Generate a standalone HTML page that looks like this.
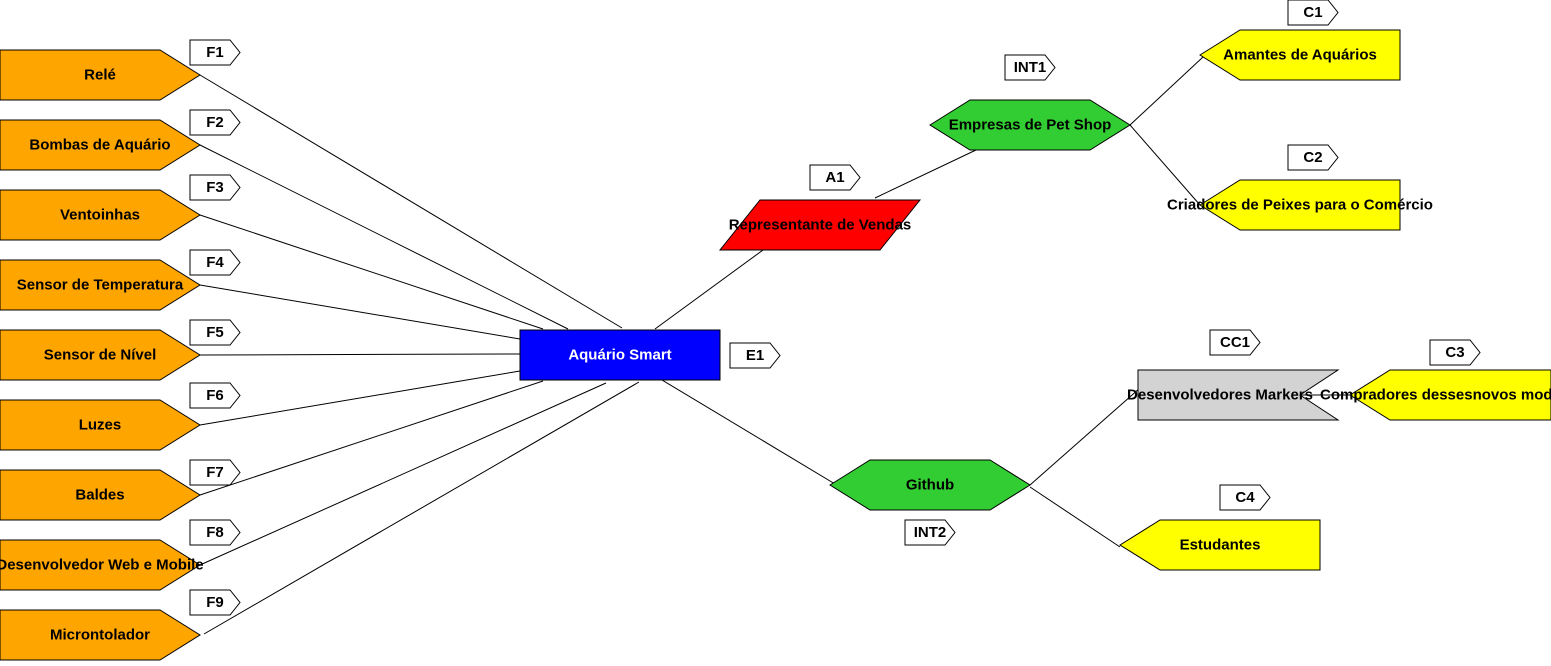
<!DOCTYPE html>
<html><head><meta charset="utf-8"><style>
html,body{margin:0;padding:0;background:#fff;}
svg text{font-family:"Liberation Sans",sans-serif;font-weight:bold;font-size:15px;text-anchor:middle;dominant-baseline:central;fill:#000;}
svg text.s{font-size:15px;}
</style></head><body>
<svg width="1551" height="661" viewBox="0 0 1551 661" xmlns="http://www.w3.org/2000/svg">
<g stroke="#000" stroke-width="1" fill="none">
<line x1="200" y1="75" x2="622" y2="328"/>
<line x1="200" y1="145" x2="568" y2="329"/>
<line x1="200" y1="215" x2="543" y2="329"/>
<line x1="200" y1="285" x2="520" y2="339"/>
<line x1="200" y1="355" x2="520" y2="354"/>
<line x1="200" y1="425" x2="520" y2="371"/>
<line x1="200" y1="495" x2="543" y2="381"/>
<line x1="200" y1="565" x2="606" y2="383"/>
<line x1="204" y1="634" x2="639" y2="382"/>
<line x1="655" y1="329" x2="763" y2="250"/>
<line x1="875" y1="198" x2="976" y2="150"/>
<line x1="1130" y1="125" x2="1203" y2="57"/>
<line x1="1130" y1="125" x2="1200" y2="205"/>
<line x1="662" y1="380" x2="845" y2="490"/>
<line x1="1030" y1="485" x2="1140" y2="388"/>
<line x1="1030" y1="487" x2="1120" y2="547"/>
<line x1="1300" y1="395" x2="1352" y2="395"/>
</g>
<g stroke="#000" stroke-width="1" fill="#FFA500">
<polygon points="0,50 160,50 200,75 160,100 0,100"/>
<polygon points="0,120 160,120 200,145 160,170 0,170"/>
<polygon points="0,190 160,190 200,215 160,240 0,240"/>
<polygon points="0,260 160,260 200,285 160,310 0,310"/>
<polygon points="0,330 160,330 200,355 160,380 0,380"/>
<polygon points="0,400 160,400 200,425 160,450 0,450"/>
<polygon points="0,470 160,470 200,495 160,520 0,520"/>
<polygon points="0,540 160,540 200,565 160,590 0,590"/>
<polygon points="0,610 160,610 200,635 160,660 0,660"/>
</g>
<g stroke="#000" stroke-width="1" fill="#fff">
<polygon points="190,40 230,40 240,52.5 230,65 190,65"/>
<polygon points="190,110 230,110 240,122.5 230,135 190,135"/>
<polygon points="190,175 230,175 240,187.5 230,200 190,200"/>
<polygon points="190,250 230,250 240,262.5 230,275 190,275"/>
<polygon points="190,320 230,320 240,332.5 230,345 190,345"/>
<polygon points="190,383 230,383 240,395.5 230,408 190,408"/>
<polygon points="190,460 230,460 240,472.5 230,485 190,485"/>
<polygon points="190,520 230,520 240,532.5 230,545 190,545"/>
<polygon points="190,590 230,590 240,602.5 230,615 190,615"/>
<polygon points="730,343 770,343 780,355.5 770,368 730,368"/>
<polygon points="810,165 850,165 860,177.5 850,190 810,190"/>
<polygon points="1005,55 1045,55 1055,67.5 1045,80 1005,80"/>
<polygon points="1288,0 1328,0 1338,12.5 1328,25 1288,25"/>
<polygon points="1288,145 1328,145 1338,157.5 1328,170 1288,170"/>
<polygon points="905,520 945,520 955,532.5 945,545 905,545"/>
<polygon points="1210,330 1250,330 1260,342.5 1250,355 1210,355"/>
<polygon points="1430,340 1470,340 1480,352.5 1470,365 1430,365"/>
<polygon points="1220,485 1260,485 1270,497.5 1260,510 1220,510"/>
</g>
<rect x="520" y="330" width="200" height="50" fill="#0000FF" stroke="#000"/>
<polygon points="760,200 920,200 880,250 720,250" fill="#FF0000" stroke="#000"/>
<polygon points="930,125 970,100 1090,100 1130,125 1090,150 970,150" fill="#32CD32" stroke="#000"/>
<polygon points="830,485 870,460 990,460 1030,485 990,510 870,510" fill="#32CD32" stroke="#000"/>
<g stroke="#000" fill="#FFFF00">
<polygon points="1200,55 1240,30 1400,30 1400,80 1240,80"/>
<polygon points="1200,205 1240,180 1400,180 1400,230 1240,230"/>
<polygon points="1350,395 1390,370 1551,370 1551,420 1390,420"/>
<polygon points="1120,545 1160,520 1320,520 1320,570 1160,570"/>
</g>
<polygon points="1138,370 1338,370 1300,395 1338,420 1138,420" fill="#D3D3D3" stroke="#000"/>
<text x="100" y="75">Relé</text>
<text x="100" y="145">Bombas de Aquário</text>
<text x="100" y="215">Ventoinhas</text>
<text x="100" y="285">Sensor de Temperatura</text>
<text x="100" y="355">Sensor de Nível</text>
<text x="100" y="425">Luzes</text>
<text x="100" y="495">Baldes</text>
<text x="100" y="565">Desenvolvedor Web e Mobile</text>
<text x="100" y="635">Microntolador</text>
<text x="215" y="52.5">F1</text>
<text x="215" y="122.5">F2</text>
<text x="215" y="187.5">F3</text>
<text x="215" y="262.5">F4</text>
<text x="215" y="332.5">F5</text>
<text x="215" y="395.5">F6</text>
<text x="215" y="472.5">F7</text>
<text x="215" y="532.5">F8</text>
<text x="215" y="602.5">F9</text>
<text x="620" y="355" style="fill:#fff">Aquário Smart</text>
<text x="755" y="355.5">E1</text>
<text x="835" y="177.5">A1</text>
<text x="820" y="225">Representante de Vendas</text>
<text x="1030" y="67.5">INT1</text>
<text x="1030" y="125">Empresas de Pet Shop</text>
<text x="1313" y="12.5">C1</text>
<text x="1300" y="55">Amantes de Aquários</text>
<text x="1313" y="157.5">C2</text>
<text x="1300" y="205">Criadores de Peixes para o Comércio</text>
<text x="930" y="485">Github</text>
<text x="930" y="532.5">INT2</text>
<text x="1235" y="342.5">CC1</text>
<text x="1220" y="395">Desenvolvedores Markers</text>
<text x="1455" y="352.5">C3</text>
<text x="1320" y="395" style="text-anchor:start">Compradores dessesnovos modelos</text>
<text x="1245" y="497.5">C4</text>
<text x="1220" y="545">Estudantes</text>
</svg>
</body></html>
